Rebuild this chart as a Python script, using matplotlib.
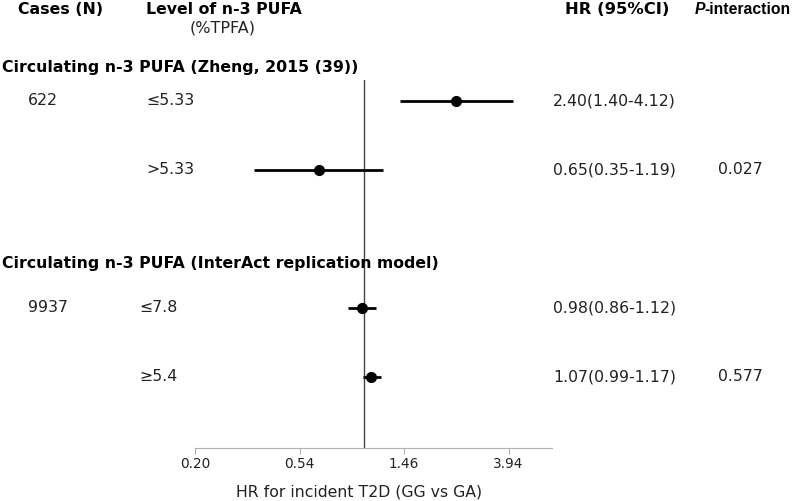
import matplotlib
matplotlib.use("Agg")
import matplotlib.pyplot as plt
from matplotlib.transforms import blended_transform_factory

# ---- data ----
sections = ["Circulating n-3 PUFA (Zheng, 2015 (39))",
            "Circulating n-3 PUFA (InterAct replication model)"]
cases = ["622", "", "9937", ""]
levels = ["\u22645.33", ">5.33", "\u22647.8", "\u22655.4"]
hr = [2.40, 0.65, 0.98, 1.07]
lo = [1.40, 0.35, 0.86, 0.99]
hi = [4.12, 1.19, 1.12, 1.17]
hr_text = ["2.40(1.40-4.12)", "0.65(0.35-1.19)", "0.98(0.86-1.12)", "1.07(0.99-1.17)"]
p_text = ["", "0.027", "", "0.577"]
ticks = [0.20, 0.54, 1.46, 3.94]
tick_labels = ["0.20", "0.54", "1.46", "3.94"]

# ---- layout ----
W, H = 793, 501
rows = [0, 1, 3, 4]
level_x = [146, 146, 139, 139]
section_y = [-0.49, 2.36]

plt.rcParams['font.family'] = ['DejaVu Sans']
fig = plt.figure(figsize=(W / 100, H / 100), dpi=100)
ax = fig.add_axes([195 / W, 53 / H, 357 / W, 368 / H])
ax.set_xscale("log")
ax.set_xlim(0.20, 5.95)
ax.set_ylim(5.03, -0.304)

for r, h, l, u in zip(rows, hr, lo, hi):
    ax.plot([l, u], [r, r], color="black", lw=2.0, solid_capstyle="butt", zorder=3)
    ax.plot([h], [r], "o", color="black", ms=7, zorder=4)

ax.axvline(1.0, color="#444444", lw=1.0, zorder=2)

for s in ["top", "right", "left"]:
    ax.spines[s].set_visible(False)
ax.spines["bottom"].set_color("#b0b0b0")
ax.set_yticks([])
ax.set_xticks(ticks)
ax.set_xticklabels(tick_labels)
ax.minorticks_off()
ax.tick_params(axis="x", colors="#b0b0b0", labelcolor="#222222", length=4,
               labelsize=9.8, pad=2.5)

tr = blended_transform_factory(fig.transFigure, ax.transData)
fs = 11.3
txt = "#222222"
for r, c, lv, lx, ht, pt in zip(rows, cases, levels, level_x, hr_text, p_text):
    fig.text(28 / W, r, c, transform=tr, fontsize=fs, va="center", ha="left", color=txt)
    fig.text(lx / W, r, lv, transform=tr, fontsize=fs, va="center", ha="left", color=txt)
    fig.text(553 / W, r, ht, transform=tr, fontsize=fs, va="center", ha="left", color=txt)
    fig.text(718 / W, r, pt, transform=tr, fontsize=fs, va="center", ha="left", color=txt)

for sy, st in zip(section_y, sections):
    fig.text(2 / W, sy, st, transform=tr, fontsize=fs, fontweight="bold",
             va="center", ha="left")

# x axis title
fig.text(359 / W, 1 - 492 / H, "HR for incident T2D (GG vs GA)", fontsize=fs,
         va="center", ha="center", color=txt)

# headers
fig.text(18 / W, 1 - 10 / H, "Cases (N)", fontsize=fs, fontweight="bold", va="center", ha="left")
fig.text(146 / W, 1 - 10 / H, "Level of n-3 PUFA", fontsize=fs, fontweight="bold", va="center", ha="left")
fig.text(223 / W, 1 - 28 / H, "(%TPFA)", fontsize=11.5, va="center", ha="center", color=txt)
fig.text(565 / W, 1 - 10 / H, "HR (95%CI)", fontsize=11.8, fontweight="bold", va="center", ha="left")
fig.text(695 / W, 1 - 10 / H, "P", fontsize=11.3, fontweight="bold", fontstyle="italic",
         family="Liberation Sans", va="center", ha="left")
fig.text(704.5 / W, 1 - 10 / H, "-interaction", fontsize=11.3, fontweight="bold",
         family="Liberation Sans", va="center", ha="left")

fig.savefig("out.png", dpi=100, facecolor="white")
